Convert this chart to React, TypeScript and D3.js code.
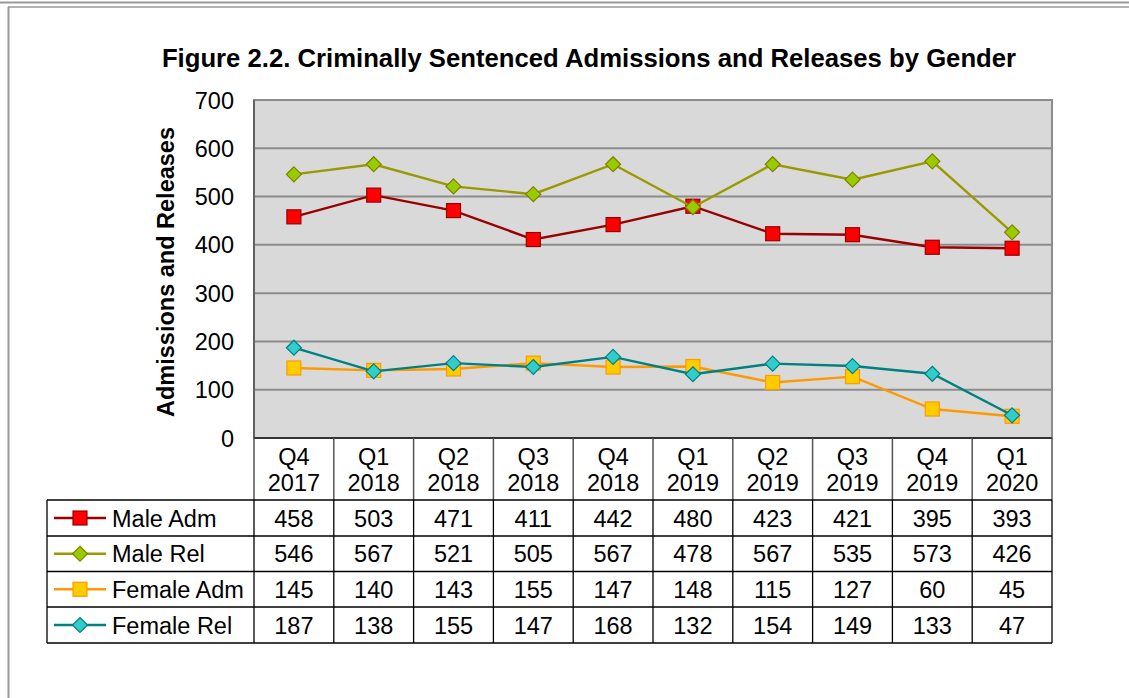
import React from "react";
import * as d3 from "d3";

const quarters = ["Q4", "Q1", "Q2", "Q3", "Q4", "Q1", "Q2", "Q3", "Q4", "Q1"];
const years = ["2017", "2018", "2018", "2018", "2018", "2019", "2019", "2019", "2019", "2020"];
const maleAdm = [458, 503, 471, 411, 442, 480, 423, 421, 395, 393];
const maleRel = [546, 567, 521, 505, 567, 478, 567, 535, 573, 426];
const femaleAdm = [145, 140, 143, 155, 147, 148, 115, 127, 60, 45];
const femaleRel = [187, 138, 155, 147, 168, 132, 154, 149, 133, 47];
const yTicks = [0, 100, 200, 300, 400, 500, 600, 700];

const series = [
  { name: "Male Adm", values: maleAdm, line: "#990000", fill: "#ff0000", stroke: "#990000", shape: "square" },
  { name: "Male Rel", values: maleRel, line: "#999900", fill: "#99cc00", stroke: "#808000", shape: "diamond" },
  { name: "Female Adm", values: femaleAdm, line: "#ff9900", fill: "#ffcc00", stroke: "#ff9900", shape: "square" },
  { name: "Female Rel", values: femaleRel, line: "#008080", fill: "#33cccc", stroke: "#008080", shape: "diamond" },
];

const W = 1129, H = 698;
const plotL = 254, plotR = 1052, plotT = 100, plotB = 438;
const tableL = 47;
const rowYs = [500, 536, 571.5, 607, 643];
const FONT = "'Liberation Sans', Arial, Helvetica, sans-serif";
const FS = 23.5;

function Marker({ shape, x, y, fill, stroke }: any) {
  if (shape === "square") {
    return <rect x={x - 7} y={y - 7} width={14} height={14} fill={fill} stroke={stroke} strokeWidth={1.2} />;
  }
  const r = 7.5;
  return (
    <path d={`M${x},${y - r}L${x + r},${y}L${x},${y + r}L${x - r},${y}Z`} fill={fill} stroke={stroke} strokeWidth={1.2} />
  );
}

export default function App() {
  const x = d3.scaleBand<number>().domain(d3.range(quarters.length)).range([plotL, plotR]);
  const y = d3.scaleLinear().domain([0, 700]).range([plotB, plotT]);
  const cx = (i: number) => (x(i) as number) + x.bandwidth() / 2;
  const line = d3.line<number>().x((_, i) => cx(i)).y((v) => y(v));

  return (
    <div style={{ position: "fixed", left: 0, top: 0, width: W, height: H, background: "#fff" }}>
      <svg width={W} height={H} style={{ display: "block", fontFamily: FONT }}>
        {/* frame */}
        <line x1={0} x2={W} y1={2.5} y2={2.5} stroke="#999" strokeWidth={2} />
        <line x1={8} x2={W} y1={7} y2={7} stroke="#999" strokeWidth={1.5} />
        <line x1={8.5} x2={8.5} y1={7} y2={H} stroke="#999" strokeWidth={2} />

        <text x={589} y={67} textAnchor="middle" fontSize={25.7} fontWeight="bold" fill="#000">
          Figure 2.2. Criminally Sentenced Admissions and Releases by Gender
        </text>

        {/* plot area */}
        <rect x={plotL} y={plotT} width={plotR - plotL} height={plotB - plotT} fill="#d9d9d9" />
        {yTicks.map((t) => (
          <line key={t} x1={plotL} x2={plotR} y1={y(t)} y2={y(t)} stroke="#8c8c8c" strokeWidth={2} />
        ))}
        <rect x={plotL} y={plotT} width={plotR - plotL} height={plotB - plotT} fill="none" stroke="#8c8c8c" strokeWidth={2} />
        <line x1={plotL} x2={plotL} y1={plotT} y2={plotB} stroke="#555" strokeWidth={1.5} />
        <line x1={plotL} x2={plotR} y1={plotB} y2={plotB} stroke="#333" strokeWidth={2} />

        {yTicks.map((t) => (
          <text key={t} x={234} y={y(t) + 8.5} textAnchor="end" fontSize={FS} fill="#000">
            {t}
          </text>
        ))}
        <text
          transform={`translate(174,272) rotate(-90)`}
          textAnchor="middle"
          fontSize={FS}
          fontWeight="bold"
          fill="#000"
        >
          Admissions and Releases
        </text>

        {series.map((s) => (
          <g key={s.name}>
            <path d={line(s.values) as string} fill="none" stroke={s.line} strokeWidth={2.4} />
            {s.values.map((v, i) => (
              <Marker key={i} shape={s.shape} x={cx(i)} y={y(v)} fill={s.fill} stroke={s.stroke} />
            ))}
          </g>
        ))}

        {/* data table */}
        {quarters.map((q, i) => (
          <g key={i}>
            <text x={cx(i)} y={465} textAnchor="middle" fontSize={FS} fill="#000">{q}</text>
            <text x={cx(i)} y={491} textAnchor="middle" fontSize={FS} fill="#000">{years[i]}</text>
          </g>
        ))}
        {/* header verticals */}
        {d3.range(quarters.length + 1).map((i) => {
          const xx = i === quarters.length ? plotR : (x(i) as number);
          return <line key={i} x1={xx} x2={xx} y1={plotB} y2={rowYs[0]} stroke="#555" strokeWidth={1.5} />;
        })}
        {/* row lines */}
        {rowYs.map((ry, k) => (
          <line key={k} x1={tableL} x2={plotR} y1={ry} y2={ry} stroke="#000" strokeWidth={1.3} />
        ))}
        <line x1={tableL} x2={tableL} y1={rowYs[0]} y2={rowYs[4]} stroke="#000" strokeWidth={1.3} />
        {d3.range(quarters.length + 1).map((i) => {
          const xx = i === quarters.length ? plotR : (x(i) as number);
          return <line key={i} x1={xx} x2={xx} y1={rowYs[0]} y2={rowYs[4]} stroke="#000" strokeWidth={1.3} />;
        })}
        {series.map((s, k) => {
          const my = (rowYs[k] + rowYs[k + 1]) / 2;
          return (
            <g key={s.name}>
              <line x1={54} x2={106} y1={my} y2={my} stroke={s.line} strokeWidth={2.4} />
              <Marker shape={s.shape} x={80} y={my} fill={s.fill} stroke={s.stroke} />
              <text x={112} y={my + 8.5} fontSize={FS} fill="#000">{s.name}</text>
              {s.values.map((v, i) => (
                <text key={i} x={cx(i)} y={my + 8.5} textAnchor="middle" fontSize={FS} fill="#000">
                  {v}
                </text>
              ))}
            </g>
          );
        })}
      </svg>
    </div>
  );
}
